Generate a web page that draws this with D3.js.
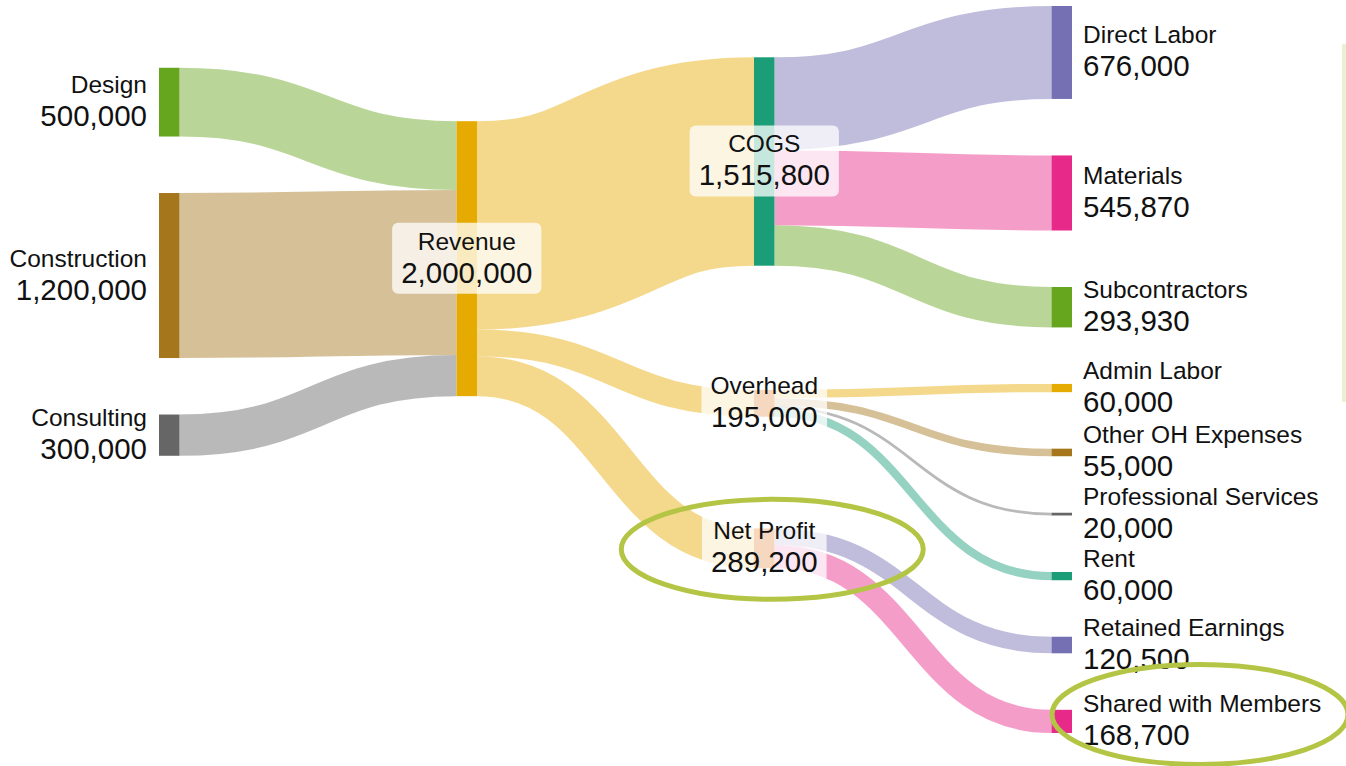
<!DOCTYPE html>
<html>
<head>
<meta charset="utf-8">
<script src="https://cdn.jsdelivr.net/npm/d3@7"></script>
<style>
  html, body { margin: 0; padding: 0; background: #fff; }
  svg { display: block; font-family: "Liberation Sans", Arial, sans-serif; }
</style>
</head>
<body>
<svg id="chart" width="1346" height="766"></svg>
<script>
// ---- data ----
const nodeNames = ['Design', 'Construction', 'Consulting', 'Revenue', 'COGS', 'Overhead', 'Net Profit',
    'Direct Labor', 'Materials', 'Subcontractors', 'Admin Labor', 'Other OH Expenses',
    'Professional Services', 'Rent', 'Retained Earnings', 'Shared with Members'];

const linkSources = ['Design', 'Construction', 'Consulting', 'Revenue', 'Revenue', 'Revenue',
    'COGS', 'COGS', 'COGS', 'Overhead', 'Overhead', 'Overhead', 'Overhead', 'Net Profit', 'Net Profit'];
const linkTargets = ['Revenue', 'Revenue', 'Revenue', 'COGS', 'Overhead', 'Net Profit',
    'Direct Labor', 'Materials', 'Subcontractors', 'Admin Labor', 'Other OH Expenses',
    'Professional Services', 'Rent', 'Retained Earnings', 'Shared with Members'];
const linkValues = [500000, 1200000, 300000, 1515800, 195000, 289200,
    676000, 545870, 293930, 60000, 55000, 20000, 60000, 120500, 168700];

// nodes circled in the original screenshot
const highlighted = ['Net Profit', 'Shared with Members'];

// ---- styles ----
const nodeColor = {
    'Design': '#66a61e', 'Construction': '#a6761d', 'Consulting': '#666666', 'Revenue': '#e6ab02',
    'COGS': '#1b9e77', 'Overhead': '#d95f02', 'Net Profit': '#d95f02', 'Direct Labor': '#7570b3',
    'Materials': '#e7298a', 'Subcontractors': '#66a61e', 'Admin Labor': '#e6ab02',
    'Other OH Expenses': '#a6761d', 'Professional Services': '#666666', 'Rent': '#1b9e77',
    'Retained Earnings': '#7570b3', 'Shared with Members': '#e7298a'
};

const W = 1346, H = 766;
const extent = { x0: 159, x1: 1072, y0: 6, y1: 733 };
const nodeWidth = 20.5;
const nodePadding = 56.5;
const fmt = d3.format(',');

// ---- sankey layout ----
// d3-sankey style relaxation, nodes kept in input order. One sweep from the right,
// then a damped sweep back from the left (backPull) so middle nodes sit between both sides.
function sankeyLayout(nodes, links, { iterations = 1, backPull = 0.55 } = {}) {
    const { x0, x1, y0, y1 } = extent;
    nodes.forEach((n, i) => { n.index = i; n.sourceLinks = []; n.targetLinks = []; });
    links.forEach((l, i) => { l.index = i; l.source.sourceLinks.push(l); l.target.targetLinks.push(l); });
    nodes.forEach(n => {
        n.value = Math.max(d3.sum(n.sourceLinks, l => l.value), d3.sum(n.targetLinks, l => l.value));
    });

    // depth by walking from the sources, sinks pushed to the last column
    let current = new Set(nodes), depth = 0;
    while (current.size) {
        const next = new Set();
        for (const n of current) {
            n.depth = depth;
            for (const l of n.sourceLinks) next.add(l.target);
        }
        depth++;
        current = next;
    }
    const nLayers = depth;
    nodes.forEach(n => n.layer = n.sourceLinks.length ? n.depth : nLayers - 1);

    const x = d3.scaleLinear().domain([0, nLayers - 1]).range([x0, x1 - nodeWidth]);
    nodes.forEach(n => { n.x0 = x(n.layer); n.x1 = n.x0 + nodeWidth; });

    const columns = d3.range(nLayers).map(k => nodes.filter(n => n.layer === k));
    const py = Math.min(nodePadding, (y1 - y0) / (d3.max(columns, c => c.length) - 1));
    const ky = d3.min(columns, c => (y1 - y0 - (c.length - 1) * py) / d3.sum(c, n => n.value));
    const h = d3.scaleLinear().domain([0, 1e6]).range([0, ky * 1e6]);

    const byBreadth = (a, b) => a.y0 - b.y0;
    const bySource = (a, b) => byBreadth(a.source, b.source) || a.index - b.index;
    const byTarget = (a, b) => byBreadth(a.target, b.target) || a.index - b.index;
    const reorderNodeLinks = (node) => {
        for (const { source } of node.targetLinks) source.sourceLinks.sort(byTarget);
        for (const { target } of node.sourceLinks) target.targetLinks.sort(bySource);
    };

    // initial breadths: stack each column and spread the leftover room
    for (const col of columns) {
        let y = y0;
        for (const n of col) {
            n.y0 = y;
            n.y1 = y + h(n.value);
            y = n.y1 + py;
            for (const l of n.sourceLinks) l.width = h(l.value);
        }
        const step = (y1 - y + py) / (col.length + 1);
        col.forEach((n, i) => { n.y0 += step * (i + 1); n.y1 += step * (i + 1); });
        for (const n of col) { n.sourceLinks.sort(byTarget); n.targetLinks.sort(bySource); }
    }

    const targetTop = (source, target) => {
        let y = source.y0 - (source.sourceLinks.length - 1) * py / 2;
        for (const l of source.sourceLinks) { if (l.target === target) break; y += l.width + py; }
        for (const l of target.targetLinks) { if (l.source === source) break; y -= l.width; }
        return y;
    };
    const sourceTop = (source, target) => {
        let y = target.y0 - (target.targetLinks.length - 1) * py / 2;
        for (const l of target.targetLinks) { if (l.source === source) break; y += l.width + py; }
        for (const l of source.sourceLinks) { if (l.target === target) break; y -= l.width; }
        return y;
    };

    const pushDown = (col, y, i, alpha) => {
        for (; i < col.length; ++i) {
            const n = col[i], dy = (y - n.y0) * alpha;
            if (dy > 1e-6) { n.y0 += dy; n.y1 += dy; }
            y = n.y1 + py;
        }
    };
    const pushUp = (col, y, i, alpha) => {
        for (; i >= 0; --i) {
            const n = col[i], dy = (n.y1 - y) * alpha;
            if (dy > 1e-6) { n.y0 -= dy; n.y1 -= dy; }
            y = n.y0 - py;
        }
    };
    const resolveCollisions = (col, alpha) => {
        const i = col.length >> 1, subject = col[i];
        pushUp(col, subject.y0 - py, i - 1, alpha);
        pushDown(col, subject.y1 + py, i + 1, alpha);
        pushUp(col, y1, col.length - 1, alpha);
        pushDown(col, y0, 0, alpha);
    };

    for (let it = 0; it < iterations; ++it) {
        const alpha = Math.pow(0.99, it);
        const beta = Math.max(1 - alpha, (it + 1) / iterations);

        // right to left
        for (let i = nLayers - 2; i >= 0; --i) {
            const col = columns[i];
            for (const src of col) {
                let y = 0, w = 0;
                for (const l of src.sourceLinks) {
                    const v = l.value * (l.target.layer - src.layer);
                    y += sourceTop(src, l.target) * v;
                    w += v;
                }
                if (!(w > 0)) continue;
                const dy = (y / w - src.y0) * alpha;
                src.y0 += dy; src.y1 += dy;
                reorderNodeLinks(src);
            }
            resolveCollisions(col, beta);
        }
        // left to right, damped
        for (let i = 1; i < nLayers; ++i) {
            const col = columns[i];
            for (const tgt of col) {
                let y = 0, w = 0;
                for (const l of tgt.targetLinks) {
                    const v = l.value * (tgt.layer - l.source.layer);
                    y += targetTop(l.source, tgt) * v;
                    w += v;
                }
                if (!(w > 0)) continue;
                const dy = (y / w - tgt.y0) * alpha * backPull;
                tgt.y0 += dy; tgt.y1 += dy;
                reorderNodeLinks(tgt);
            }
            resolveCollisions(col, beta);
        }
    }

    // link end points
    for (const n of nodes) {
        let ys = n.y0, yt = n.y0;
        for (const l of n.sourceLinks) { l.y0 = ys + l.width / 2; ys += l.width; }
        for (const l of n.targetLinks) { l.y1 = yt + l.width / 2; yt += l.width; }
    }
    return { nodes, links, nLayers };
}

// ---- build graph ----
const nodes = nodeNames.map(name => ({ name }));
const byName = new Map(nodes.map(n => [n.name, n]));
const links = linkValues.map((value, i) => ({
    source: byName.get(linkSources[i]),
    target: byName.get(linkTargets[i]),
    value
}));
const graph = sankeyLayout(nodes, links);
const lastLayer = graph.nLayers - 1;

// first two stages take the colour of the source, the breakdowns the colour of the target
const linkColor = (l) => l.source.layer < 2 ? nodeColor[l.source.name] : nodeColor[l.target.name];

const svg = d3.select('#chart');
svg.append('rect').attr('width', W).attr('height', H).attr('fill', '#fff');

// links
svg.append('g')
    .attr('fill', 'none')
    .selectAll('path')
    .data(graph.links)
    .join('path')
    .attr('d', d3.linkHorizontal()
        .source(d => [d.source.x1, d.y0])
        .target(d => [d.target.x0, d.y1]))
    .attr('stroke', linkColor)
    .attr('stroke-opacity', 0.46)
    .attr('stroke-width', d => Math.max(1, d.width));

// nodes
svg.append('g')
    .selectAll('rect')
    .data(graph.nodes)
    .join('rect')
    .attr('x', d => d.x0)
    .attr('y', d => d.y0)
    .attr('width', d => d.x1 - d.x0)
    .attr('height', d => Math.max(1, d.y1 - d.y0))
    .attr('fill', d => nodeColor[d.name]);

// labels
const labels = svg.append('g')
    .selectAll('g')
    .data(graph.nodes)
    .join('g')
    .attr('transform', d => {
        const cy = (d.y0 + d.y1) / 2;
        if (d.layer === 0) return `translate(${d.x0 - 12},${cy})`;
        if (d.layer === lastLayer) return `translate(${d.x1 + 11},${cy})`;
        return `translate(${(d.x0 + d.x1) / 2},${cy})`;
    });

const anchor = d => d.layer === 0 ? 'end' : d.layer === lastLayer ? 'start' : 'middle';

labels.append('text')
    .attr('y', -9)
    .attr('text-anchor', anchor)
    .attr('font-size', 24.5)
    .attr('fill', '#111')
    .text(d => d.name);

labels.append('text')
    .attr('y', 24)
    .attr('text-anchor', anchor)
    .attr('font-size', 29.5)
    .attr('fill', '#111')
    .text(d => fmt(d.value));

// middle nodes get a translucent box behind the text
labels.filter(d => d.layer > 0 && d.layer < lastLayer).each(function () {
    const box = this.getBBox();
    d3.select(this).insert('rect', ':first-child')
        .attr('x', box.x - 9)
        .attr('y', box.y - 5)
        .attr('width', box.width + 18)
        .attr('height', box.height + 10)
        .attr('rx', 6)
        .attr('fill', '#fff')
        .attr('fill-opacity', 0.75);
});

// ---- annotations from the screenshot ----
svg.append('rect')
    .attr('x', W - 4)
    .attr('y', 44)
    .attr('width', 4)
    .attr('height', 358)
    .attr('fill', '#eaf0d3');

const circled = graph.nodes.filter(n => highlighted.includes(n.name));
svg.append('g')
    .selectAll('ellipse')
    .data(circled)
    .join('ellipse')
    .attr('cx', d => d.layer === lastLayer ? d.x1 + 128 : (d.x0 + d.x1) / 2 + 8)
    .attr('cy', d => (d.y0 + d.y1) / 2 + (d.layer === lastLayer ? -7 : 1))
    .attr('rx', d => d.layer === lastLayer ? 148 : 151)
    .attr('ry', 50)
    .attr('fill', 'none')
    .attr('stroke', '#b4c545')
    .attr('stroke-width', 5);
</script>
</body>
</html>
